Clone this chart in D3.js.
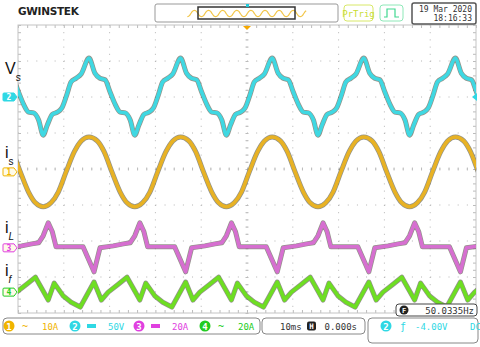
<!DOCTYPE html>
<html>
<head>
<meta charset="utf-8">
<script src="https://cdn.jsdelivr.net/npm/d3@7"></script>
<style>
  body { margin: 0; background: #fff; }
  svg { display: block; }
  text { font-family: "DejaVu Sans Mono", monospace; }
</style>
</head>
<body>
<div id="scope"></div>
<script>
// one cycle of each trace (ms after the Vs trough)
const vsPhase = [0, 0.9, 2.0, 3.1, 4.1, 5.2, 6.1, 7.2, 8.3, 10, 11.3, 12.4, 13.5, 14.6, 15.7, 16.8, 17.9, 19, 20];
const vsVolts = [-53, -39, -24, -21, -15, 4, 21, 26, 32, 54, 33, 26, 24, 7, -10, -21, -22, -32, -53];

const isPhase = [0, 1.7, 3.3, 5, 6.8, 8.3, 10, 11.8, 13.3, 15, 16.8, 18.3, 20];
const isAmps  = [-9.7, -8.6, -5.6, 0, 5.6, 8.6, 9.7, 8.6, 5.6, 0, -5.6, -8.6, -9.7];

const iLPhase = [0, 1.1, 2.0, 2.8, 8.7, 11.1, 12.4, 15.3, 17.5, 19.0, 20];
const iLAmps  = [6.7, 13.9, 8.9, 0.6, 0.6, -13.3, 0, 1.1, 2.2, 2.8, 6.7];

const ifPhase = [0, 1.1, 2.4, 4.4, 6.1, 8.1, 11.1, 12.7, 14.2, 16.4, 18.3, 20];
const ifAmps  = [0.6, -4.4, 5.0, -2.2, -5.6, -8.3, 5.6, -4.4, 0, 4.4, 8.3, 0.6];

// channel settings
const chIds     = [1, 2, 3, 4];
const chScale   = [10, 50, 20, 20];          // units per division
const chUnit    = ["A", "V", "A", "A"];
const chOffset  = [-0.08, 2.0, -2.19, -3.42]; // ground position in divisions
const chColor   = ["#f0b400", "#2fd8e4", "#e040e0", "#22cc22"];
const chTrace   = ["#e8b224", "#3fd8e2", "#d66fd0", "#6ede22"];
const chCoupIcon = ["~", "=", "=", "~"];

const period = 20;        // ms
const firstTrough = -44.5; // ms

const W = 480, H = 347;
const gx0 = 18, gx1 = 476, gy0 = 25, gy1 = 313;

const svg = d3.select("#scope").append("svg")
    .attr("width", W).attr("height", H);

const x = d3.scaleLinear().domain([-50, 50]).range([gx0, gx1]);
const y = d3.scaleLinear().domain([-4, 4]).range([gy1, gy0]);

// ---------- grid ----------
let grid = svg.append("g");
grid.selectAll(".vl")
    .data(d3.range(-40, 41, 10))
    .enter().append("line")
    .attr("x1", d => x(d)).attr("x2", d => x(d))
    .attr("y1", gy0).attr("y2", gy1)
    .attr("stroke", "#b4b4b4").attr("stroke-width", 1)
    .attr("stroke-dasharray", "1,6.2");
grid.selectAll(".hl")
    .data(d3.range(-3, 4, 1))
    .enter().append("line")
    .attr("x1", gx0).attr("x2", gx1)
    .attr("y1", d => y(d)).attr("y2", d => y(d))
    .attr("stroke", "#b4b4b4").attr("stroke-width", 1)
    .attr("stroke-dasharray", "1,8.16");

// small ticks on the border and centre lines
let minorX = d3.range(-50, 50.01, 2);
let minorY = d3.range(-4, 4.01, 0.2);
function ticks(axis, tr) {
  grid.append("g").attr("transform", tr)
      .call(axis.tickSize(3).tickFormat(""))
      .call(g => g.select(".domain").remove())
      .call(g => g.selectAll("line").attr("stroke", "#bbb"));
}
ticks(d3.axisBottom(x).tickValues(minorX), "translate(0," + gy0 + ")");
ticks(d3.axisTop(x).tickValues(minorX), "translate(0," + gy1 + ")");
ticks(d3.axisRight(y).tickValues(minorY), "translate(" + gx0 + ",0)");
ticks(d3.axisLeft(y).tickValues(minorY), "translate(" + gx1 + ",0)");
ticks(d3.axisBottom(x).tickValues(minorX), "translate(0," + (y(0) - 1.5) + ")");
ticks(d3.axisRight(y).tickValues(minorY), "translate(" + (x(0) - 1.5) + ",0)");

grid.append("rect")
    .attr("x", gx0).attr("y", gy0)
    .attr("width", gx1 - gx0).attr("height", gy1 - gy0)
    .attr("fill", "none").attr("stroke", "#c4c4c4").attr("stroke-width", 1);

// ---------- traces ----------
svg.append("clipPath").attr("id", "clip")
   .append("rect").attr("x", gx0).attr("y", gy0 - 2)
   .attr("width", gx1 - gx0).attr("height", gy1 - gy0 + 4);

function tile(phase, vals) {
  let pts = [];
  for (let k = -1; k <= 5; k++) {
    for (let i = 0; i < phase.length - 1; i++) {
      pts.push({t: firstTrough + k * period + phase[i], v: vals[i]});
    }
  }
  return pts;
}

let traces = [
  {ch: 1, pts: tile(vsPhase, vsVolts), curve: d3.curveMonotoneX},
  {ch: 0, pts: tile(isPhase, isAmps), curve: d3.curveMonotoneX},
  {ch: 2, pts: tile(iLPhase, iLAmps), curve: d3.curveLinear},
  {ch: 3, pts: tile(ifPhase, ifAmps), curve: d3.curveLinear}
];

let gTr = svg.append("g").attr("clip-path", "url(#clip)");
traces.forEach(tr => {
  let line = d3.line()
      .x(d => x(d.t))
      .y(d => y(chOffset[tr.ch] + d.v / chScale[tr.ch]))
      .curve(tr.curve);
  gTr.append("path").datum(tr.pts)
      .attr("d", line).attr("fill", "none")
      .attr("stroke", "#3a3a2a").attr("stroke-width", 5)
      .attr("stroke-linejoin", "round").attr("opacity", 0.55);
  gTr.append("path").datum(tr.pts)
      .attr("d", line).attr("fill", "none")
      .attr("stroke", chTrace[tr.ch]).attr("stroke-width", 3.6)
      .attr("stroke-linejoin", "round");
});

// ---------- channel ground markers ----------
chIds.forEach((id, i) => {
  let yy = y(chOffset[i]);
  let g = svg.append("g").attr("transform", "translate(3," + yy + ")");
  let filled = id === 2;
  g.append("path")
      .attr("d", "M1,-4 H11 L14,0 L11,4 H1 Q0,4 0,3 V-3 Q0,-4 1,-4 Z")
      .attr("fill", filled ? chColor[i] : "#fffbe8")
      .attr("stroke", chColor[i]).attr("stroke-width", 1);
  g.append("text").attr("x", 6).attr("y", 3)
      .attr("text-anchor", "middle")
      .attr("font-size", 8).attr("font-weight", "bold")
      .attr("fill", filled ? "#fff" : chColor[i])
      .text(id);
});

// trigger level marker (right) and trigger position (top)
svg.append("path")
    .attr("d", "M" + (gx1 + 1) + "," + (y(2.0) - 4) + " L" + (gx1 - 4) + "," + y(2.0) + " L" + (gx1 + 1) + "," + (y(2.0) + 4) + " Z")
    .attr("fill", "#2fd8e4");
svg.append("path")
    .attr("d", "M" + (x(0) - 4) + "," + (gy0 + 1) + " L" + (x(0) + 4) + "," + (gy0 + 1) + " L" + x(0) + "," + (gy0 + 5) + " Z")
    .attr("fill", "#f5a800");

// ---------- signal labels ----------
const labelMain = ["V", "i", "i", "i"];
const labelSub  = ["s", "s", "L", "f"];
const labelY    = [74, 158, 233, 276];
const labelItalic = [false, false, true, true];
labelMain.forEach((m, i) => {
  let t = svg.append("text").attr("x", 5).attr("y", labelY[i])
      .style("font-family", "'Liberation Sans', Arial, sans-serif")
      .attr("font-size", 16).attr("fill", "#111");
  t.append("tspan").text(m);
  t.append("tspan").attr("dy", 7).attr("font-size", 10)
      .attr("font-style", labelItalic[i] ? "italic" : "normal")
      .text(labelSub[i]);
});

// ---------- top bar ----------
svg.append("text").attr("x", 18).attr("y", 15)
    .style("font-family", "'DejaVu Sans', sans-serif")
    .attr("font-size", 10.5).attr("font-weight", "bold")
    .attr("letter-spacing", -0.3).attr("fill", "#222")
    .text("GWINSTEK");

svg.append("rect").attr("x", 155).attr("y", 4).attr("width", 183).attr("height", 18)
    .attr("rx", 2).attr("fill", "#fff").attr("stroke", "#999").attr("stroke-width", 1);
// memory overview of ch1
let xm = d3.scaleLinear().domain([-85, 85]).range([187, 307]);
let ovPts = tile(isPhase, isAmps).concat(
    tile(isPhase, isAmps).map(d => ({t: d.t + 7 * period, v: d.v})),
    tile(isPhase, isAmps).map(d => ({t: d.t - 7 * period, v: d.v})))
    .filter(d => d.t >= -85 && d.t <= 85)
    .sort((a, b) => a.t - b.t);
svg.append("path").datum(ovPts)
    .attr("d", d3.line().x(d => xm(d.t)).y(d => 13.5 - d.v * 0.32).curve(d3.curveMonotoneX))
    .attr("fill", "none").attr("stroke", "#f2c64a").attr("stroke-width", 1.2);
svg.append("rect").attr("x", 198).attr("y", 7).attr("width", 97).attr("height", 12)
    .attr("fill", "none").attr("stroke", "#333").attr("stroke-width", 1.5);
svg.append("rect").attr("x", 246).attr("y", 4).attr("width", 3).attr("height", 3).attr("fill", "#22c8d8");

svg.append("rect").attr("x", 344).attr("y", 5).attr("width", 29).attr("height", 16)
    .attr("rx", 3).attr("fill", "#fff").attr("stroke", "#d8e868").attr("stroke-width", 1);
svg.append("text").attr("x", 358.5).attr("y", 16.5).attr("text-anchor", "middle")
    .attr("font-size", 9).attr("fill", "#c8dc30").text("PrTrig");

svg.append("rect").attr("x", 380).attr("y", 5).attr("width", 23).attr("height", 16)
    .attr("rx", 3).attr("fill", "#fff").attr("stroke", "#8ee8b8").attr("stroke-width", 1);
svg.append("path").attr("d", "M384,17 H387 V9 H395 V17 H399")
    .attr("fill", "none").attr("stroke", "#40d890").attr("stroke-width", 1.2);

svg.append("rect").attr("x", 412).attr("y", 3).attr("width", 64).attr("height", 21)
    .attr("rx", 2).attr("fill", "#fff").attr("stroke", "#555").attr("stroke-width", 1.5);
svg.append("text").attr("x", 472).attr("y", 11.5).attr("text-anchor", "end")
    .attr("font-size", 8).attr("fill", "#333").text("19 Mar 2020");
svg.append("text").attr("x", 472).attr("y", 21).attr("text-anchor", "end")
    .attr("font-size", 8).attr("fill", "#333").text("18:16:33");

// ---------- frequency readout ----------
svg.append("rect").attr("x", 396).attr("y", 304).attr("width", 81).attr("height", 12)
    .attr("rx", 3).attr("fill", "#fff").attr("stroke", "#444").attr("stroke-width", 1);
svg.append("circle").attr("cx", 404).attr("cy", 310).attr("r", 4.5).attr("fill", "#222");
svg.append("text").attr("x", 404).attr("y", 313).attr("text-anchor", "middle")
    .attr("font-size", 7).attr("font-weight", "bold").attr("fill", "#fff").text("F");
svg.append("text").attr("x", 474).attr("y", 313.5).attr("text-anchor", "end")
    .attr("font-size", 9).attr("fill", "#333").text("50.0335Hz");

// ---------- bottom bar ----------
svg.append("rect").attr("x", 3).attr("y", 318).attr("width", 257).attr("height", 16)
    .attr("rx", 4).attr("fill", "#fff").attr("stroke", "#888").attr("stroke-width", 1);
const chItemX = [9, 75, 139, 205];
chIds.forEach((id, i) => {
  let cx = chItemX[i];
  svg.append("circle").attr("cx", cx).attr("cy", 326).attr("r", 5.5).attr("fill", chColor[i]);
  svg.append("text").attr("x", cx).attr("y", 329.5).attr("text-anchor", "middle")
      .attr("font-size", 9).attr("font-weight", "bold").attr("fill", "#fff").text(id);
  if (chCoupIcon[i] === "~") {
    svg.append("text").attr("x", cx + 16).attr("y", 329.5).attr("text-anchor", "middle")
        .attr("font-size", 10).attr("fill", chColor[i]).text("~");
  } else {
    svg.append("rect").attr("x", cx + 12).attr("y", 324).attr("width", 9).attr("height", 4)
        .attr("fill", chColor[i]);
  }
  svg.append("text").attr("x", cx + 33).attr("y", 329.5)
      .attr("font-size", 9).attr("fill", chColor[i])
      .text(chScale[i] + chUnit[i]);
});

svg.append("rect").attr("x", 262).attr("y", 318).attr("width", 103).attr("height", 16)
    .attr("rx", 4).attr("fill", "#fff").attr("stroke", "#888").attr("stroke-width", 1);
svg.append("text").attr("x", 280).attr("y", 329.5).attr("font-size", 9).attr("fill", "#333").text("10ms");
svg.append("rect").attr("x", 307).attr("y", 321.5).attr("width", 9).attr("height", 9)
    .attr("rx", 2).attr("fill", "#222");
svg.append("text").attr("x", 311.5).attr("y", 329).attr("text-anchor", "middle")
    .attr("font-size", 7.5).attr("font-weight", "bold").attr("fill", "#fff").text("H");
svg.append("text").attr("x", 357).attr("y", 329.5).attr("text-anchor", "end")
    .attr("font-size", 9).attr("fill", "#333").text("0.000s");

svg.append("rect").attr("x", 368).attr("y", 318).attr("width", 110).attr("height", 25)
    .attr("rx", 4).attr("fill", "#fff").attr("stroke", "#888").attr("stroke-width", 1);
svg.append("circle").attr("cx", 386).attr("cy", 326).attr("r", 5.5).attr("fill", "#2fd8e4");
svg.append("text").attr("x", 386).attr("y", 329.5).attr("text-anchor", "middle")
    .attr("font-size", 9).attr("font-weight", "bold").attr("fill", "#fff").text("2");
svg.append("text").attr("x", 403).attr("y", 329.5).attr("text-anchor", "middle")
    .attr("font-size", 10).attr("fill", "#2fd8e4").text("ƒ");
svg.append("text").attr("x", 415).attr("y", 329.5)
    .attr("font-size", 9).attr("fill", "#2fd8e4").text("-4.00V");
svg.append("text").attr("x", 470).attr("y", 329.5)
    .attr("font-size", 9).attr("fill", "#2fd8e4").text("DC");
</script>
</body>
</html>
